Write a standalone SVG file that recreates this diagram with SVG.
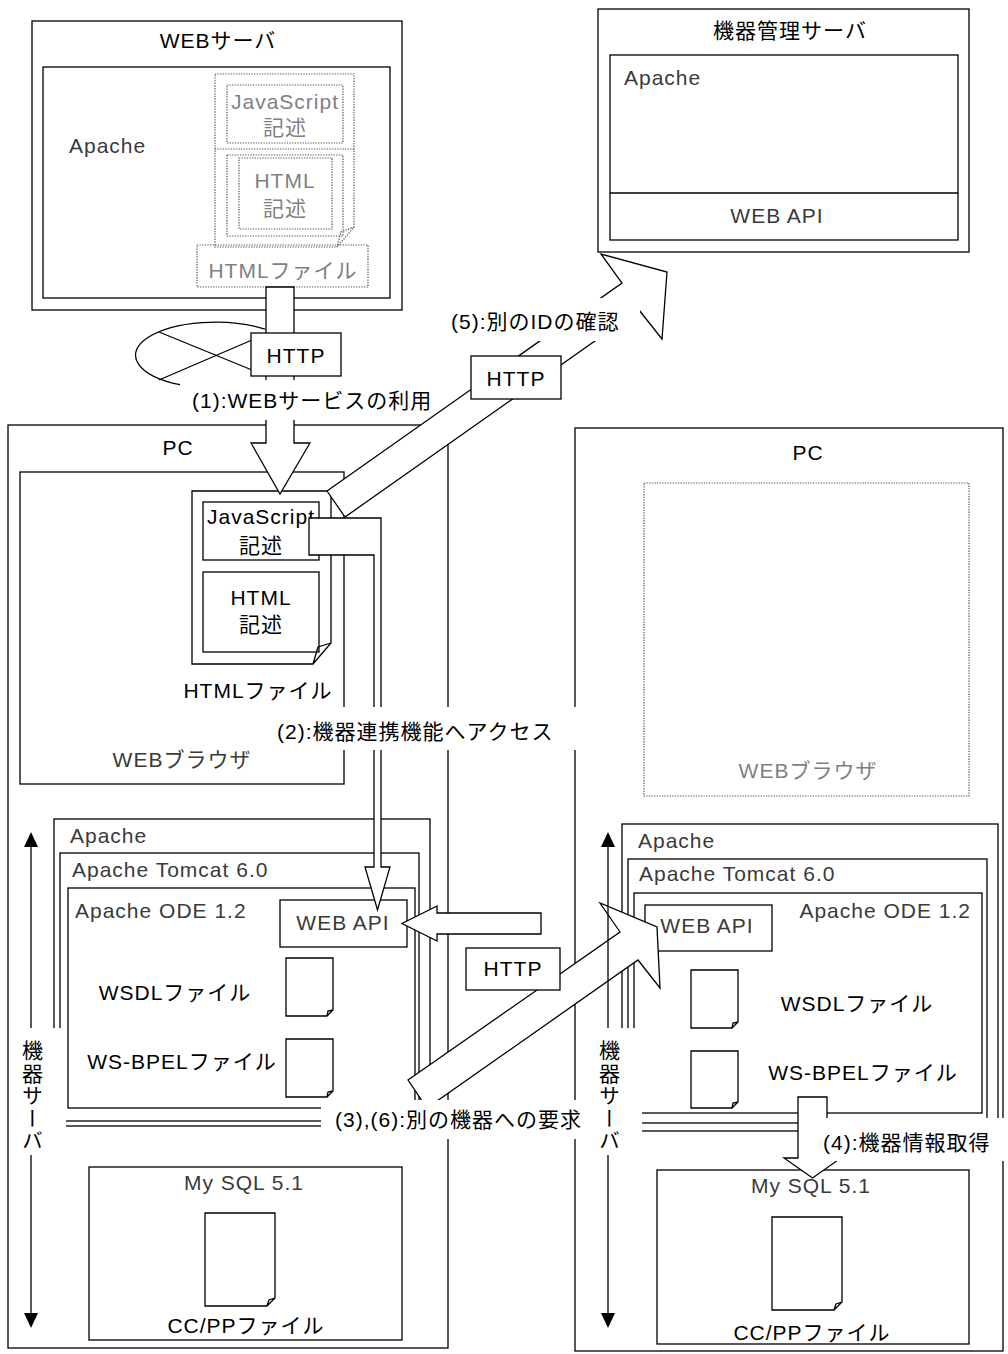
<svg xmlns="http://www.w3.org/2000/svg" width="1008" height="1354" viewBox="0 0 1008 1354">
<defs>
<style>
text{font-family:'Liberation Sans','Noto Sans CJK JP',sans-serif;font-size:21px;letter-spacing:1px;fill:#000}
.c{text-anchor:middle}
.e{text-anchor:end}
.g{fill:#3a3a3a}
.lg{fill:#7f7f7f}
.box{fill:none;stroke:#000;stroke-width:1.3}
.wb{fill:#fff;stroke:#000;stroke-width:1.3}
.dot{fill:none;stroke:#555;stroke-width:1.2;stroke-dasharray:1.3 1.3}
.arr{fill:#fff;stroke:#000;stroke-width:1.3;stroke-linejoin:miter}
.ln{fill:none;stroke:#000;stroke-width:1.3}
.bg{fill:#fff}
.vt{writing-mode:vertical-rl;letter-spacing:1.5px}
</style>
<marker id="head" viewBox="0 0 15 14" refX="0" refY="7" markerWidth="15" markerHeight="14" markerUnits="userSpaceOnUse" orient="auto-start-reverse"><path d="M0,0 L15,7 L0,14 Z" fill="#000"/></marker>
</defs>
<rect width="1008" height="1354" fill="#fff"/>

<g id="web-server">
<rect class="box" x="32" y="21" width="370" height="289"/>
<text class="c" x="218" y="48">WEBサーバ</text>
<rect class="box" x="43" y="67" width="347" height="231"/>
<text class="g" x="69" y="153">Apache</text>
<g id="web-html-file">
<path class="dot" d="M215,74 H354 V227 L337,247 H215 Z M354,227 L341,232 L337,247"/>
<line class="dot" x1="215" y1="149" x2="354" y2="149"/>
<rect class="dot" x="227" y="85" width="116" height="58"/>
<text class="c lg" x="285" y="109">JavaScript</text>
<text class="c lg" x="285" y="135">記述</text>
<rect class="dot" x="227" y="155" width="116" height="81"/>
<rect class="dot" x="239" y="158" width="93" height="71"/>
<text class="c lg" x="285" y="188">HTML</text>
<text class="c lg" x="285" y="216">記述</text>
<rect class="dot" x="197" y="245" width="171" height="42"/>
<text class="c lg" x="283" y="278">HTMLファイル</text>
</g>
</g>

<g id="mgmt-server">
<rect class="box" x="598" y="9" width="371" height="243"/>
<text class="c" x="790" y="38">機器管理サーバ</text>
<rect class="box" x="610" y="55" width="348" height="185"/>
<line class="ln" x1="610" y1="193" x2="958" y2="193"/>
<text class="g" x="624" y="85">Apache</text>
<text class="c g" x="777" y="223">WEB API</text>
</g>

<g id="pc-left">
<rect class="box" x="8" y="425" width="440" height="923"/>
<text class="c" x="178" y="455">PC</text>
<g id="browser-left">
<rect class="box" x="20" y="472" width="324" height="312"/>
<text class="c g" x="182" y="767">WEBブラウザ</text>
</g>
<g id="html-file-left">
<path class="box" d="M192,491 H331 V643 L313,664 H192 Z M331,643 L318,647 L313,664"/>
<rect class="box" x="203" y="502" width="116" height="58"/>
<text class="c" x="261" y="524">JavaScript</text>
<text class="c" x="261" y="553">記述</text>
<rect class="box" x="203" y="572" width="116" height="80"/>
<text class="c" x="261" y="605">HTML</text>
<text class="c" x="261" y="632">記述</text>
<text class="c" x="258" y="698">HTMLファイル</text>
</g>
</g>

<g id="server-left">
<rect class="box" x="54" y="819" width="376" height="307"/>
<text class="g" x="70" y="843">Apache</text>
<rect class="box" x="60" y="853" width="359" height="268"/>
<text class="g" x="72" y="877">Apache Tomcat 6.0</text>
<rect class="box" x="68" y="888" width="347" height="220"/>
<text class="g" x="75" y="918">Apache ODE 1.2</text>
<rect class="box" x="280" y="900" width="127" height="47"/>
<text class="c g" x="343" y="930">WEB API</text>
<path class="box" d="M286,958 H333 V1010 L327,1016 H286 Z M333,1010 L328,1011 L327,1016"/>
<text class="c" x="175" y="1000">WSDLファイル</text>
<path class="box" d="M286,1039 H333 V1091 L327,1097 H286 Z M333,1091 L328,1092 L327,1097"/>
<text class="c" x="182" y="1069">WS-BPELファイル</text>
<rect class="box" x="89" y="1167" width="313" height="173"/>
<text class="c g" x="244" y="1190">My SQL 5.1</text>
<path class="box" d="M205,1213 H275 V1298 L267,1306 H205 Z M275,1298 L269,1300 L267,1306"/>
<text class="c" x="246" y="1333">CC/PPファイル</text>
</g>

<g id="pc-right">
<rect class="box" x="575" y="428" width="428" height="923"/>
<text class="c" x="808" y="460">PC</text>
<rect class="dot" x="644" y="483" width="325" height="313"/>
<text class="c lg" x="808" y="778">WEBブラウザ</text>
</g>

<g id="server-right">
<rect class="box" x="622" y="824" width="376" height="307"/>
<text class="g" x="638" y="848">Apache</text>
<rect class="box" x="628" y="859" width="359" height="264"/>
<text class="g" x="639" y="881">Apache Tomcat 6.0</text>
<rect class="box" x="634" y="893" width="348" height="220"/>
<text class="e g" x="971" y="918">Apache ODE 1.2</text>
<rect class="box" x="645" y="905" width="127" height="46"/>
<text class="c g" x="707" y="933">WEB API</text>
<path class="box" d="M691,970 H738 V1022 L732,1028 H691 Z M738,1022 L733,1023 L732,1028"/>
<text class="c" x="857" y="1011">WSDLファイル</text>
<path class="box" d="M691,1051 H738 V1102 L732,1108 H691 Z M738,1102 L733,1103 L732,1108"/>
<text class="c" x="863" y="1080">WS-BPELファイル</text>
<rect class="box" x="657" y="1170" width="312" height="174"/>
<text class="c g" x="811" y="1193">My SQL 5.1</text>
<path class="box" d="M772,1217 H842 V1302 L834,1310 H772 Z M842,1302 L836,1304 L834,1310"/>
<text class="c" x="812" y="1340">CC/PPファイル</text>
</g>

<g id="connectors">
<path class="ln" d="M265,329.2 A80,33 0 1 0 180,384.7"/>
<line class="ln" x1="159" y1="332" x2="252" y2="370"/>
<line class="ln" x1="159" y1="380" x2="252" y2="340"/>
<polygon id="arrow1" class="arr" points="266,287 294,287 294,443 310,443 280,494 251,443 266,443"/>
<polygon id="arrow5" class="arr" points="327,491 622,283 601,254 667,272 662,339 639,310 345,517"/>
<path id="arrow2" class="arr" d="M309,518 H381 V867 H390 L377.5,910 L365,867 H374 V555 H309 Z"/>
<polygon id="arrow-http-left" class="arr" points="541,913 437,913 437,906 402,923.5 437,941 437,934 541,934"/>
<polygon id="arrow36" class="arr" points="408,1080 620,932 600,903 657,927 660,988 638,960 427,1108"/>
<polygon id="arrow4" class="arr" points="798,1097 827,1097 827,1158 841,1158 812.5,1178 784,1158 798,1158"/>
<line class="ln" x1="31" y1="847" x2="31" y2="1313" marker-start="url(#head)" marker-end="url(#head)"/>
<line class="ln" x1="608" y1="847" x2="608" y2="1313" marker-start="url(#head)" marker-end="url(#head)"/>
</g>

<g id="labels">
<rect class="bg" x="188" y="380" width="228" height="40"/>
<text x="192" y="408">(1):WEBサービスの利用</text>
<rect class="wb" x="251" y="333" width="90" height="43"/>
<text class="c" x="296" y="363">HTTP</text>
<rect class="bg" x="446" y="298" width="194" height="43"/>
<text x="451" y="329">(5):別のIDの確認</text>
<rect class="wb" x="471" y="356" width="90" height="43"/>
<text class="c" x="516" y="386">HTTP</text>
<rect class="bg" x="272" y="707" width="306" height="43"/>
<text x="277" y="739">(2):機器連携機能へアクセス</text>
<rect class="wb" x="466" y="948" width="94" height="42"/>
<text class="c" x="513" y="976">HTTP</text>
<rect class="bg" x="321" y="1100" width="321" height="39"/>
<text x="335" y="1127">(3),(6):別の機器への要求</text>
<rect class="bg" x="819" y="1118" width="186" height="43"/>
<text x="823" y="1150">(4):機器情報取得</text>
<rect class="bg" x="18" y="1028" width="48" height="127"/>
<text class="vt" x="31" y="1040">機器サーバ</text>
<rect class="bg" x="595" y="1028" width="47" height="127"/>
<text class="vt" x="608" y="1040">機器サーバ</text>
</g>
</svg>
